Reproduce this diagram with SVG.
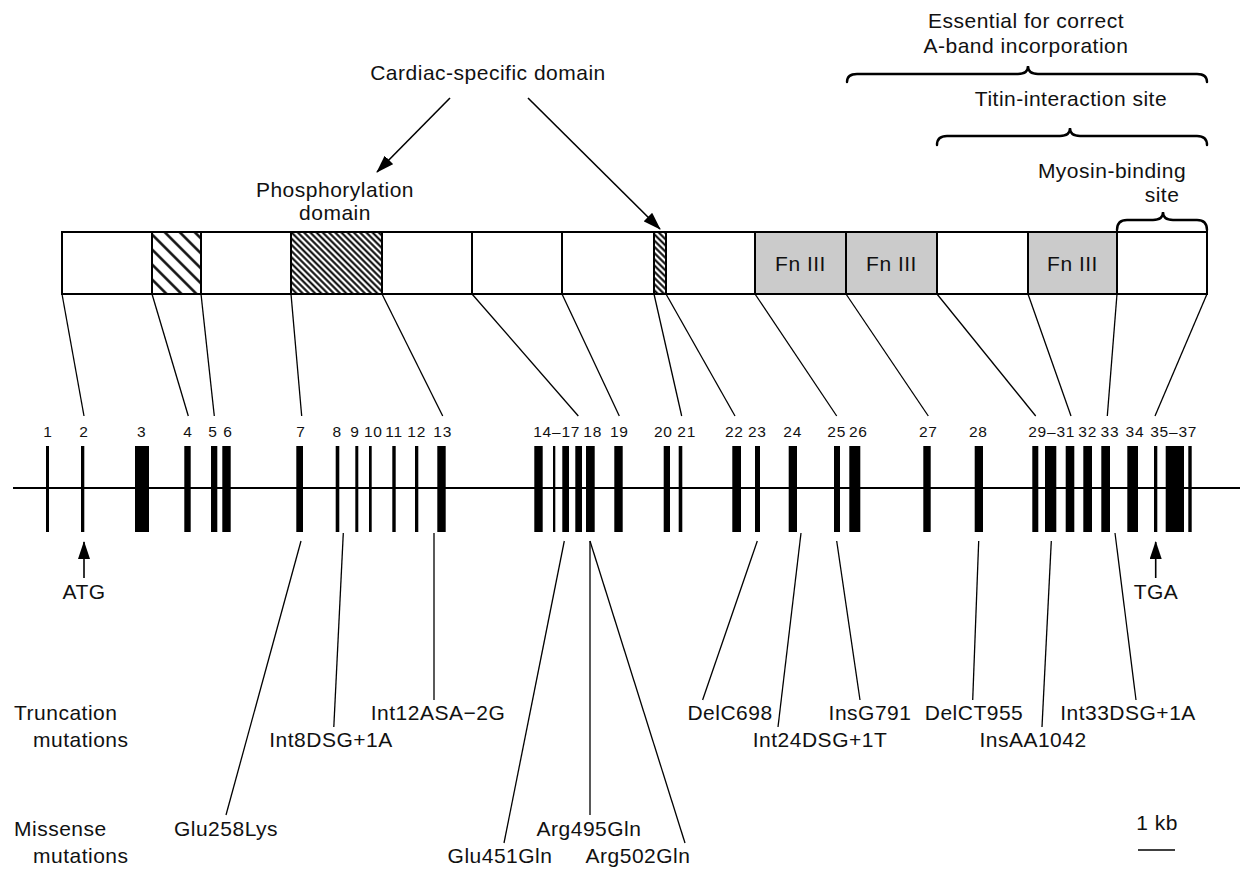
<svg xmlns="http://www.w3.org/2000/svg" width="1251" height="870" viewBox="0 0 1251 870">
  <style>
    .lbl { font-family: "Liberation Sans", Arial, sans-serif; font-size: 21px; letter-spacing: 0.5px; fill: #111; }
    .num { font-family: "Liberation Sans", Arial, sans-serif; font-size: 15.5px; letter-spacing: 0.8px; fill: #111; text-anchor: middle; }
    .mid { text-anchor: middle; }
    .seg { fill: #fff; stroke: #000; stroke-width: 2; }
    .fn { fill: #cbcbcb; stroke: #000; stroke-width: 2; }
    .conn { stroke: #000; stroke-width: 1.3; fill: none; }
    .arr { stroke: #000; stroke-width: 1.6; fill: none; }
    .brace { stroke: #000; stroke-width: 2.4; fill: none; stroke-linecap: round; }
    .exon { fill: #000; }
  </style>
  <defs>
    <pattern id="hatchWide" patternUnits="userSpaceOnUse" width="10.6" height="10.6" patternTransform="rotate(45)">
      <rect width="10.6" height="10.6" fill="#fff"/>
      <line x1="0" y1="5.3" x2="10.6" y2="5.3" stroke="#000" stroke-width="2.4"/>
    </pattern>
    <pattern id="hatchDense" patternUnits="userSpaceOnUse" width="4.4" height="4.4" patternTransform="rotate(45)">
      <rect width="4.4" height="4.4" fill="#fff"/>
      <line x1="0" y1="2.2" x2="4.4" y2="2.2" stroke="#000" stroke-width="2"/>
    </pattern>
    <marker id="head" markerUnits="userSpaceOnUse" markerWidth="18" markerHeight="12" refX="17" refY="6" orient="auto">
      <path d="M0,0 L18,6 L0,12 Z" fill="#000"/>
    </marker>
  </defs>

  <!-- region annotations above the protein -->
  <g id="label-cardiac">
    <text class="lbl mid" x="488" y="80">Cardiac-specific domain</text>
  </g>
  <g id="label-phospho">
    <text class="lbl mid" x="335" y="197">Phosphorylation</text>
    <text class="lbl mid" x="335" y="220">domain</text>
  </g>
  <g id="region-aband">
    <text class="lbl mid" x="1026" y="28">Essential for correct</text>
    <text class="lbl mid" x="1026" y="53">A-band incorporation</text>
    <path class="brace" d="M847,82 Q847,74 857,74 L1018,74 Q1028,74 1028,66 Q1028,74 1038,74 L1197,74 Q1207,74 1207,82"/>
  </g>
  <g id="region-titin">
    <text class="lbl mid" x="1071" y="106">Titin-interaction site</text>
    <path class="brace" d="M937,145 Q937,136 947,136 L1060,136 Q1070,136 1070,128 Q1070,136 1080,136 L1197,136 Q1207,136 1207,145"/>
  </g>
  <g id="region-myosin">
    <text class="lbl mid" x="1112" y="178">Myosin-binding</text>
    <text class="lbl mid" x="1162" y="202">site</text>
    <path class="brace" d="M1117,230 Q1117,220 1127,220 L1153,220 Q1163,220 1163,212 Q1163,220 1173,220 L1197,220 Q1207,220 1207,230"/>
  </g>

  <!-- protein domain bar -->
  <g id="protein">
    <rect class="seg" x="62" y="232" width="90" height="62"/>
    <rect class="seg" x="152" y="232" width="49" height="62" style="fill:url(#hatchWide)"/>
    <rect class="seg" x="201" y="232" width="90" height="62"/>
    <rect class="seg" x="291" y="232" width="91" height="62" style="fill:url(#hatchDense)"/>
    <rect class="seg" x="382" y="232" width="90" height="62"/>
    <rect class="seg" x="472" y="232" width="90" height="62"/>
    <rect class="seg" x="562" y="232" width="92" height="62"/>
    <rect class="seg" x="654" y="232" width="12" height="62" style="fill:url(#hatchDense)"/>
    <rect class="seg" x="666" y="232" width="89" height="62"/>
    <rect class="fn" x="755" y="232" width="91" height="62"/>
    <rect class="fn" x="846" y="232" width="91" height="62"/>
    <rect class="seg" x="937" y="232" width="91" height="62"/>
    <rect class="fn" x="1028" y="232" width="89" height="62"/>
    <rect class="seg" x="1117" y="232" width="90" height="62"/>
    <text class="lbl mid" x="800.5" y="270.5">Fn III</text>
    <text class="lbl mid" x="891.5" y="270.5">Fn III</text>
    <text class="lbl mid" x="1072.5" y="270.5">Fn III</text>
  </g>

  <!-- gene: intron line, exons and exon numbers -->
  <g id="gene">
    <line x1="13" y1="488" x2="1240" y2="488" stroke="#000" stroke-width="2"/>
    <g class="exon">
      <rect x="46" y="446" width="3" height="86"/>
      <rect x="81" y="446" width="3.3" height="86"/>
      <rect x="135" y="446" width="14" height="86"/>
      <rect x="184.3" y="446" width="6.4" height="86"/>
      <rect x="211" y="446" width="6.3" height="86"/>
      <rect x="222.3" y="446" width="8.4" height="86"/>
      <rect x="296.3" y="446" width="6.7" height="86"/>
      <rect x="335.7" y="446" width="3.6" height="86"/>
      <rect x="355.3" y="446" width="3" height="86"/>
      <rect x="369" y="446" width="2.7" height="86"/>
      <rect x="392.3" y="446" width="3.4" height="86"/>
      <rect x="415" y="446" width="3.3" height="86"/>
      <rect x="437.3" y="446" width="8.4" height="86"/>
      <rect x="534.3" y="446" width="8.4" height="86"/>
      <rect x="553" y="446" width="2.3" height="86"/>
      <rect x="562.3" y="446" width="6.7" height="86"/>
      <rect x="575.3" y="446" width="6.7" height="86"/>
      <rect x="586" y="446" width="8.7" height="86"/>
      <rect x="614.3" y="446" width="8.4" height="86"/>
      <rect x="663.7" y="446" width="6.3" height="86"/>
      <rect x="678.7" y="446" width="3.6" height="86"/>
      <rect x="732.3" y="446" width="8.7" height="86"/>
      <rect x="755" y="446" width="5" height="86"/>
      <rect x="788.7" y="446" width="8.3" height="86"/>
      <rect x="834" y="446" width="6" height="86"/>
      <rect x="849.3" y="446" width="11" height="86"/>
      <rect x="923.3" y="446" width="7.4" height="86"/>
      <rect x="974.7" y="446" width="8.3" height="86"/>
      <rect x="1032.3" y="446" width="6" height="86"/>
      <rect x="1045" y="446" width="11.3" height="86"/>
      <rect x="1065.7" y="446" width="8.6" height="86"/>
      <rect x="1083.3" y="446" width="8.7" height="86"/>
      <rect x="1101.3" y="446" width="8.7" height="86"/>
      <rect x="1127.3" y="446" width="10.7" height="86"/>
      <rect x="1154" y="446" width="3.3" height="86"/>
      <rect x="1165.7" y="446" width="18.3" height="86"/>
      <rect x="1188.3" y="446" width="3.4" height="86"/>
    </g>
    <g id="exon-numbers">
      <text class="num" x="48" y="437">1</text>
      <text class="num" x="84" y="437">2</text>
      <text class="num" x="141.7" y="437">3</text>
      <text class="num" x="188" y="437">4</text>
      <text class="num" x="213" y="437">5</text>
      <text class="num" x="228" y="437">6</text>
      <text class="num" x="301" y="437">7</text>
      <text class="num" x="337.3" y="437">8</text>
      <text class="num" x="355" y="437">9</text>
      <text class="num" x="373.3" y="437">10</text>
      <text class="num" x="394" y="437">11</text>
      <text class="num" x="416.7" y="437">12</text>
      <text class="num" x="442.7" y="437">13</text>
      <text class="num" x="556.7" y="437">14–17</text>
      <text class="num" x="592.7" y="437">18</text>
      <text class="num" x="619.3" y="437">19</text>
      <text class="num" x="663.3" y="437">20</text>
      <text class="num" x="686.7" y="437">21</text>
      <text class="num" x="734.3" y="437">22</text>
      <text class="num" x="757.3" y="437">23</text>
      <text class="num" x="792.7" y="437">24</text>
      <text class="num" x="836.7" y="437">25</text>
      <text class="num" x="858.3" y="437">26</text>
      <text class="num" x="928.3" y="437">27</text>
      <text class="num" x="978.3" y="437">28</text>
      <text class="num" x="1051.7" y="437">29–31</text>
      <text class="num" x="1087.7" y="437">32</text>
      <text class="num" x="1110" y="437">33</text>
      <text class="num" x="1135" y="437">34</text>
      <text class="num" x="1173.7" y="437">35–37</text>
    </g>
  </g>

  <!-- start / stop codons -->
  <g id="codon-atg">
    <line class="arr" x1="84" y1="578" x2="84" y2="542" marker-end="url(#head)"/>
    <text class="lbl mid" x="84" y="599">ATG</text>
  </g>
  <g id="codon-tga">
    <line class="arr" x1="1155.7" y1="578" x2="1155.7" y2="542" marker-end="url(#head)"/>
    <text class="lbl mid" x="1156" y="599">TGA</text>
  </g>

  <!-- mutation labels -->
  <g id="row-labels">
    <text class="lbl" x="14" y="720">Truncation</text>
    <text class="lbl" x="33" y="747">mutations</text>
    <text class="lbl" x="14" y="836">Missense</text>
    <text class="lbl" x="33" y="863">mutations</text>
  </g>
  <g id="truncations">
    <text class="lbl mid" x="331" y="747">Int8DSG+1A</text>
    <text class="lbl mid" x="438" y="720">Int12ASA−2G</text>
    <text class="lbl mid" x="730" y="720">DelC698</text>
    <text class="lbl mid" x="820" y="747">Int24DSG+1T</text>
    <text class="lbl mid" x="870" y="720">InsG791</text>
    <text class="lbl mid" x="974" y="720">DelCT955</text>
    <text class="lbl mid" x="1033" y="747">InsAA1042</text>
    <text class="lbl mid" x="1128" y="720">Int33DSG+1A</text>
  </g>
  <g id="missense">
    <text class="lbl mid" x="226" y="836">Glu258Lys</text>
    <text class="lbl mid" x="500" y="863">Glu451Gln</text>
    <text class="lbl mid" x="589" y="836">Arg495Gln</text>
    <text class="lbl mid" x="638" y="863">Arg502Gln</text>
  </g>

  <!-- scale bar -->
  <g id="scale">
    <text class="lbl mid" x="1157" y="830">1 kb</text>
    <line x1="1138" y1="850" x2="1175" y2="850" stroke="#000" stroke-width="1.6"/>
  </g>

  <g id="connectors">
    <!-- cardiac-specific pointers -->
    <line class="arr" x1="450" y1="98" x2="377" y2="172" marker-end="url(#head)"/>
    <line class="arr" x1="528" y1="98" x2="660" y2="229" marker-end="url(#head)"/>
    <!-- protein segments to exons -->
    <line class="conn" x1="62" y1="294" x2="84" y2="416"/>
    <line class="conn" x1="152" y1="294" x2="188.3" y2="416"/>
    <line class="conn" x1="201" y1="294" x2="214.3" y2="416"/>
    <line class="conn" x1="291" y1="294" x2="301.7" y2="416"/>
    <line class="conn" x1="382" y1="294" x2="442.7" y2="416"/>
    <line class="conn" x1="472" y1="294" x2="578.3" y2="416"/>
    <line class="conn" x1="562" y1="294" x2="619.3" y2="416"/>
    <line class="conn" x1="654" y1="294" x2="681.7" y2="416"/>
    <line class="conn" x1="666" y1="294" x2="735" y2="416"/>
    <line class="conn" x1="755" y1="294" x2="836.7" y2="416"/>
    <line class="conn" x1="846" y1="294" x2="928.3" y2="416"/>
    <line class="conn" x1="937" y1="294" x2="1035.7" y2="416"/>
    <line class="conn" x1="1028" y1="294" x2="1071" y2="416"/>
    <line class="conn" x1="1117" y1="294" x2="1107.3" y2="416"/>
    <line class="conn" x1="1207" y1="294" x2="1155" y2="416"/>
    <!-- exons to mutations -->
    <line class="conn" x1="301" y1="541" x2="226" y2="815"/>
    <line class="conn" x1="343.3" y1="533" x2="333.8" y2="727"/>
    <line class="conn" x1="434" y1="533" x2="434" y2="700"/>
    <line class="conn" x1="564.3" y1="541" x2="504" y2="843"/>
    <line class="conn" x1="590" y1="541" x2="590" y2="815"/>
    <line class="conn" x1="590" y1="541" x2="685" y2="843"/>
    <line class="conn" x1="757.3" y1="541" x2="702.6" y2="700"/>
    <line class="conn" x1="801" y1="533" x2="778" y2="727"/>
    <line class="conn" x1="836.7" y1="541" x2="860" y2="700"/>
    <line class="conn" x1="978.7" y1="541" x2="972.7" y2="700"/>
    <line class="conn" x1="1051.3" y1="541" x2="1042" y2="727"/>
    <line class="conn" x1="1115" y1="533" x2="1136" y2="700"/>
  </g>
</svg>
